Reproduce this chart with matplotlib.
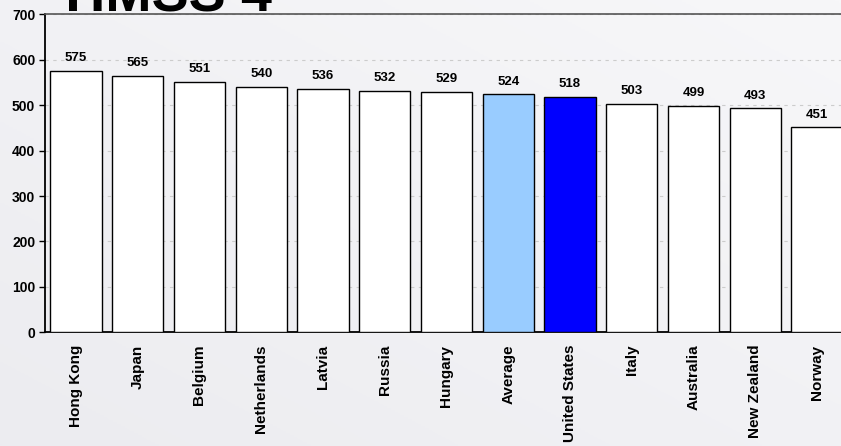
import numpy as np
import matplotlib
matplotlib.use("Agg")
import matplotlib.pyplot as plt

countries = ["Hong Kong", "Japan", "Belgium", "Netherlands", "Latvia", "Russia",
             "Hungary", "Average", "United States", "Italy", "Australia",
             "New Zealand", "Norway"]
scores = [575, 565, 551, 540, 536, 532, 529, 524, 518, 503, 499, 493, 451]
bar_colors = ["white"] * 7 + ["#99ccff", "#0000ff"] + ["white"] * 4
y_ticks = [0, 100, 200, 300, 400, 500, 600, 700]

plt.rcParams["font.family"] = ["Liberation Sans", "DejaVu Sans"]

fig = plt.figure(figsize=(8.41, 4.46), dpi=100)

# soft grey gradient behind everything
bg = fig.add_axes([0, 0, 1, 1], zorder=-10)
gx, gy = np.meshgrid(np.linspace(0, 1, 200), np.linspace(0, 1, 200))
grad = 0.5 * gx + 0.5 * gy
bg.imshow(grad, cmap=matplotlib.colors.LinearSegmentedColormap.from_list(
    "bg", ["#ececf0", "#f7f7f9"]), origin="lower", aspect="auto",
    extent=[0, 1, 0, 1])
bg.axis("off")

ax = fig.add_axes([45 / 841, 113.7 / 446, 803 / 841, 318 / 446])
ax.set_facecolor("none")

x = np.arange(len(countries))
bars = ax.bar(x, scores, width=0.83, color=bar_colors, edgecolor="black",
              linewidth=1.0, zorder=3)

for b, v in zip(bars, scores):
    ax.annotate(str(v), (b.get_x() + b.get_width() / 2, v),
                xytext=(0, 7), textcoords="offset points",
                ha="center", va="baseline", fontsize=9.5, fontweight="bold")

ax.set_xlim(-0.5, len(countries) - 0.5)
ax.set_ylim(0, 700)
ax.set_yticks(y_ticks)
ax.set_yticklabels([str(t) for t in y_ticks], fontsize=10, fontweight="bold")
ax.set_xticks(x)
ax.set_xticklabels(countries, rotation=90, fontsize=11, fontweight="bold",
                   va="top", ha="center")
ax.tick_params(axis="x", length=0, pad=9)
ax.tick_params(axis="y", length=4, width=1, direction="out", pad=3)

ax.yaxis.grid(True, linestyle=(0, (3, 4)), color="#cccccc", linewidth=0.8,
              zorder=0)
ax.set_axisbelow(True)

for side in ["left", "bottom"]:
    ax.spines[side].set_color("black")
    ax.spines[side].set_linewidth(1.3)
ax.spines["top"].set_color("#555555")
ax.spines["top"].set_linewidth(1.2)
ax.spines["right"].set_visible(False)

fig.text(56 / 841, 435 / 446, "TIMSS 4", fontsize=40, fontweight="bold",
         ha="left", va="baseline")

fig.savefig("out.png", dpi=100)
